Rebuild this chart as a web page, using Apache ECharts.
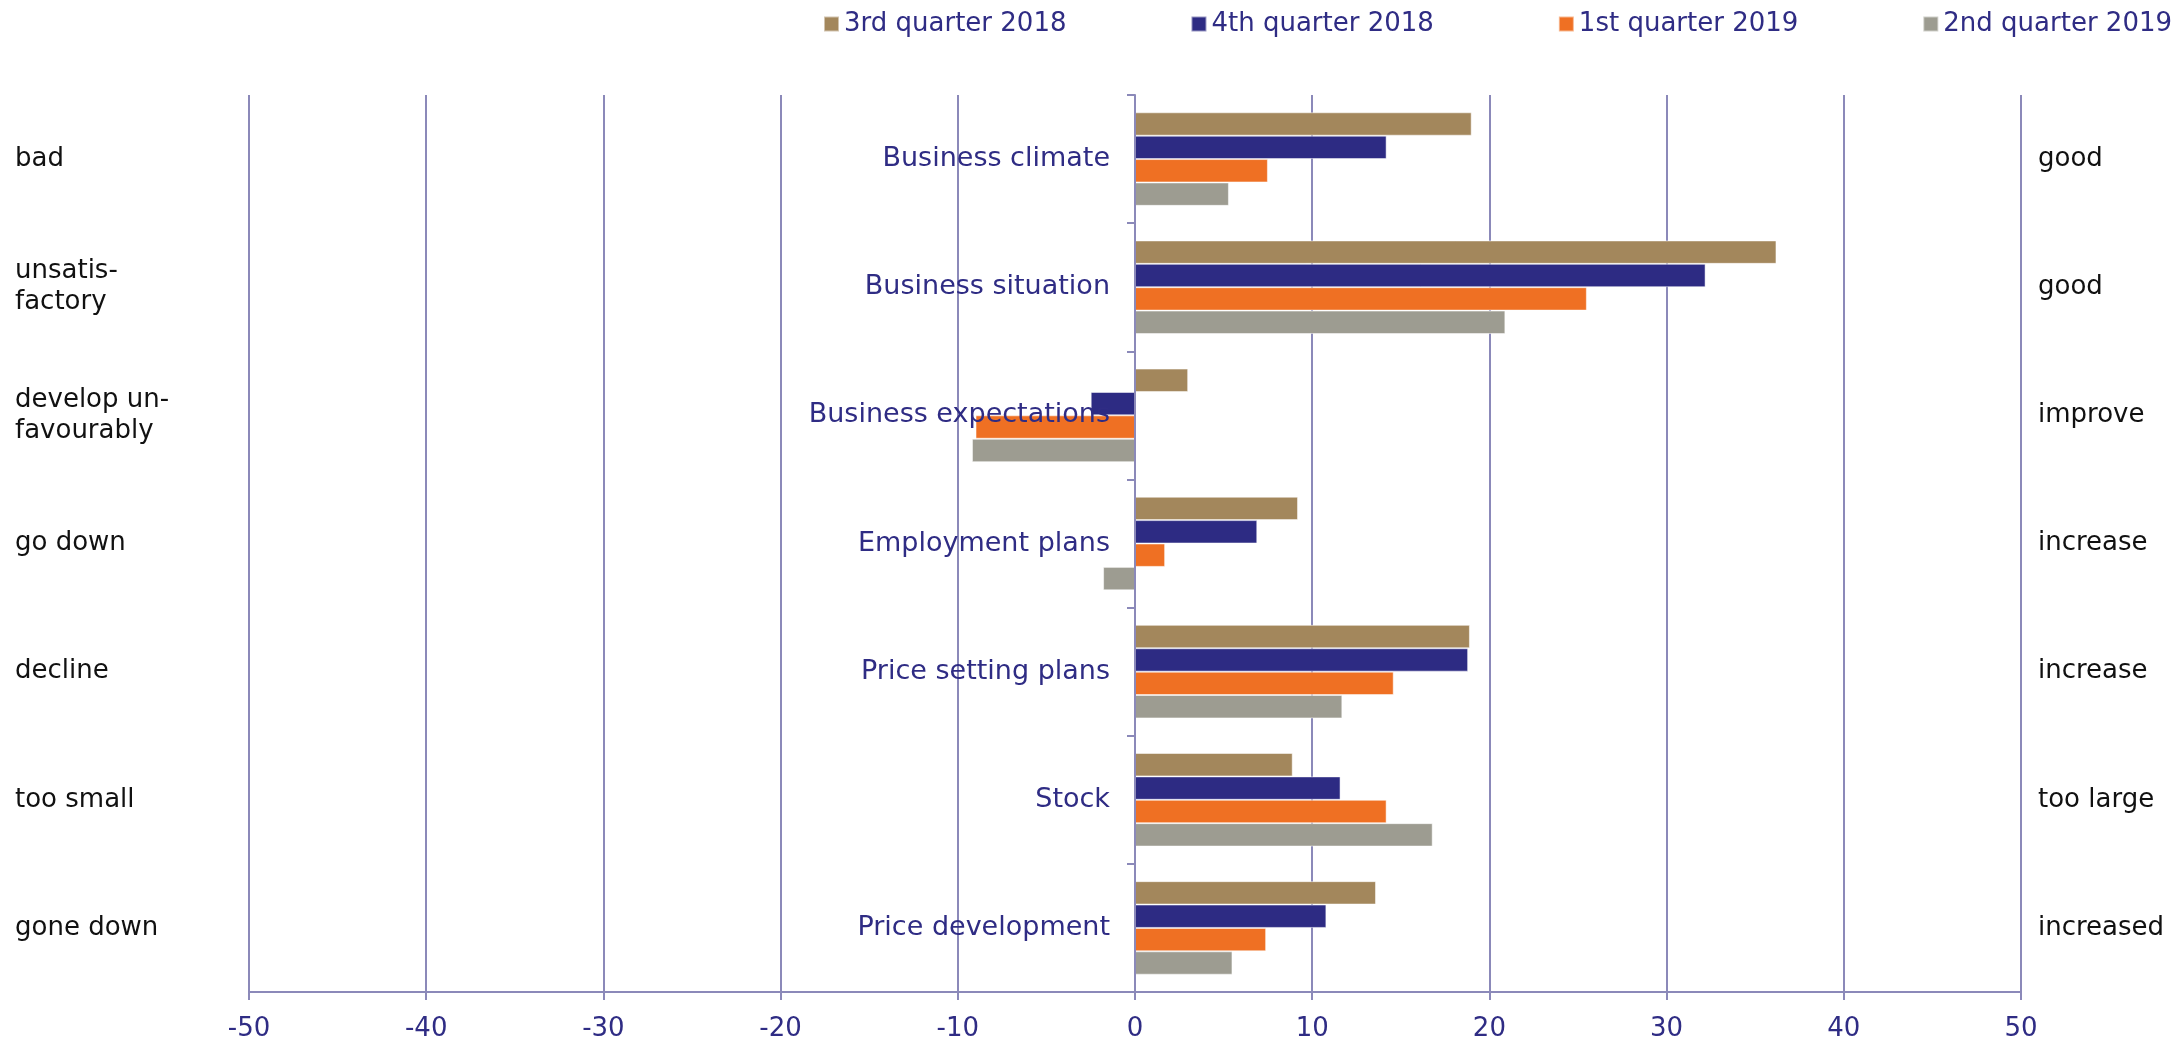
<!DOCTYPE html>
<html>
<head>
<meta charset="utf-8">
<script src="https://cdn.jsdelivr.net/npm/echarts@6/dist/echarts.min.js"></script>
<style>
  html, body { margin: 0; padding: 0; background: #fff; }
  #chart { width: 2184px; height: 1040px; }
</style>
</head>
<body>
<div id="chart"></div>
<script>
// categories, top to bottom
var categories = ['Business climate', 'Business situation', 'Business expectations', 'Employment plans', 'Price setting plans', 'Stock', 'Price development'];
var leftLabels = ['bad', 'unsatis-\nfactory', 'develop un-\nfavourably', 'go down', 'decline', 'too small', 'gone down'];
var rightLabels = ['good', 'good', 'improve', 'increase', 'increase', 'too large', 'increased'];

var seriesNames = ['3rd quarter 2018', '4th quarter 2018', '1st quarter 2019', '2nd quarter 2019'];
var q3_2018 = [19.0, 36.2, 3.0, 9.2, 18.9, 8.9, 13.6];
var q4_2018 = [14.2, 32.2, -2.5, 6.9, 18.8, 11.6, 10.8];
var q1_2019 = [7.5, 25.5, -9.0, 1.7, 14.6, 14.2, 7.4];
var q2_2019 = [5.3, 20.9, -9.2, -1.8, 11.7, 16.8, 5.5];
var colors = ['#a3875c', '#2d2b83', '#ef7023', '#9d9c91'];

var navy = '#2f2c84';
var lineCol = '#8b89b9';
var font = 'DejaVu Sans';

var myChart = echarts.init(document.getElementById('chart'));

function bar(name, data, i) {
    return {
        name: name,
        type: 'bar',
        data: data,
        barGap: '0%',
        barCategoryGap: '27%',
        itemStyle: {
            color: colors[i],
            borderColor: 'rgba(255,255,255,0.5)',
            borderWidth: 1
        }
    };
}

var option = {
    animation: false,
    textStyle: { fontFamily: font },
    legend: {
        data: seriesNames,
        left: 818,
        top: 6,
        icon: 'rect',
        itemWidth: 15,
        itemHeight: 15,
        itemGap: 124,
        textStyle: { color: navy, fontSize: 26, fontFamily: font }
    },
    grid: {
        left: 249,
        right: 163,
        top: 95,
        bottom: 48,
        containLabel: false,
        outerBoundsMode: 'none'
    },
    xAxis: {
        type: 'value',
        min: -50,
        max: 50,
        interval: 10,
        axisLine: { show: true, lineStyle: { color: lineCol, width: 2 } },
        axisTick: { show: true, length: 8, lineStyle: { color: lineCol, width: 2 } },
        splitLine: { show: true, lineStyle: { color: lineCol, width: 2 } },
        axisLabel: { color: navy, fontSize: 26, margin: 24, fontFamily: font }
    },
    yAxis: [
        {
            type: 'category',
            data: categories,
            inverse: true,
            z: 10,
            axisLine: { show: true, onZero: true, lineStyle: { color: lineCol, width: 2 } },
            axisTick: { show: true, length: 8, lineStyle: { color: lineCol, width: 2 } },
            splitLine: { show: false },
            // labels sit just left of the zero line
            axisLabel: { color: navy, fontSize: 27, margin: -861, fontFamily: font }
        },
        {
            type: 'category',
            data: leftLabels,
            inverse: true,
            position: 'left',
            axisLine: { show: false, onZero: false },
            axisTick: { show: false },
            splitLine: { show: false },
            axisLabel: { color: '#111', fontSize: 26, lineHeight: 31, align: 'left', margin: 234, fontFamily: font }
        },
        {
            type: 'category',
            data: rightLabels,
            inverse: true,
            position: 'right',
            axisLine: { show: false, onZero: false },
            axisTick: { show: false },
            splitLine: { show: false },
            axisLabel: { color: '#111', fontSize: 26, align: 'left', margin: 17, fontFamily: font }
        }
    ],
    series: [
        bar(seriesNames[0], q3_2018, 0),
        bar(seriesNames[1], q4_2018, 1),
        bar(seriesNames[2], q1_2019, 2),
        bar(seriesNames[3], q2_2019, 3)
    ]
};
myChart.setOption(option);
</script>
</body>
</html>
